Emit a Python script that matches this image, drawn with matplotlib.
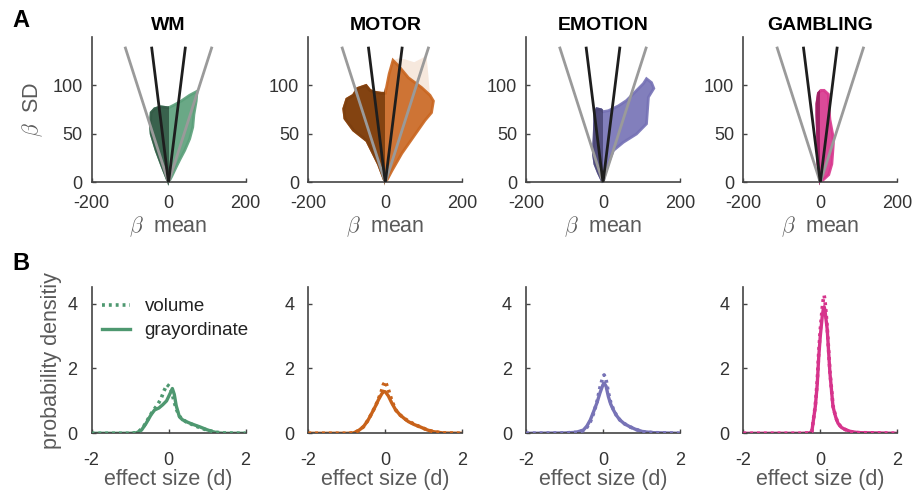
import matplotlib
matplotlib.use("Agg")
import matplotlib.pyplot as plt
from matplotlib.patches import Rectangle

plt.rcParams['font.family'] = ['Liberation Sans', 'DejaVu Sans']
plt.rcParams['mathtext.fontset'] = 'cm'
plt.rcParams['axes.unicode_minus'] = False

# ---------------- data ----------------
tasks = ["WM", "MOTOR", "EMOTION", "GAMBLING"]

# envelopes of the (beta mean, beta SD) point clouds
wm_cloud_mean = [0, -16, -32, -45, -47, -45, -36, -20, 0, 15, 33, 55, 74, 72, 66, 63, 55, 42, 30, 20, 8]
wm_cloud_sd   = [0, 16, 33, 50, 60, 72, 76, 78, 77, 80, 84, 90, 94, 84, 70, 57, 45, 33, 24, 16, 6]

motor_cloud_mean = [0, -18, -48, -83, -105, -108, -100, -83, -72, -50, -40, -27, -10, 0, 10, 20, 35, 60, 94, 116, 125, 120, 103, 73, 43, 17, 5]
motor_cloud_sd   = [0, 19, 43, 54, 66, 76, 86, 90, 97, 100, 95, 93, 92, 92, 112, 126, 120, 108, 98, 90, 84, 72, 64, 47, 30, 12, 3]

motor_faint_mean = [20, 35, 51, 75, 95, 107, 112, 116, 94, 60]
motor_faint_sd   = [126, 128, 127, 124, 128, 131, 110, 90, 98, 108]

emotion_cloud_mean = [0, -12, -21, -25, -23, -21, -16, -5, 0, 14, 40, 61, 85, 105, 113, 126, 132, 118, 113, 87, 53, 27, 10]
emotion_cloud_sd   = [0, 10, 19, 30, 47, 71, 76, 75, 73, 74, 79, 84.5, 94, 102, 107, 103, 97, 88, 60.5, 50, 41.5, 33, 16]

gambling_cloud_mean = [0, -4, -6, -7, -9, -9, -5, 2, 10, 21, 22, 25, 32, 34, 30, 22]
gambling_cloud_sd   = [0, 10, 19, 47, 70, 81, 92, 95, 95, 91, 80, 65, 50, 40, 19, 8]

# reference lines through the origin (end points at SD = 140)
line_sd = [0, 140]
gray_line_mean = [113, 113]      # |mean| at the end of the gray lines
black_line_mean = [44, 44]       # |mean| at the end of the black lines

# effect-size densities
wm_x_gray = [-2, -1, -0.84, -0.7, -0.58, -0.45, -0.36, -0.25, -0.15, -0.05, 0.05, 0.1, 0.15, 0.2, 0.28, 0.36, 0.46, 0.6, 0.81, 1.0, 1.15, 1.3, 1.5, 2]
wm_d_gray = [0, 0, 0.01, 0.1, 0.31, 0.58, 0.72, 0.78, 0.88, 1.0, 1.25, 1.38, 1.2, 0.85, 0.52, 0.42, 0.36, 0.29, 0.2, 0.11, 0.05, 0.01, 0, 0]
wm_x_vol = [-2, -1, -0.8, -0.65, -0.5, -0.4, -0.3, -0.2, -0.12, -0.04, 0.05, 0.12, 0.2, 0.3, 0.45, 0.6, 0.8, 1.0, 1.2, 1.4, 2]
wm_d_vol = [0, 0, 0.02, 0.2, 0.5, 0.7, 0.85, 1.05, 1.3, 1.5, 1.42, 1.1, 0.75, 0.5, 0.36, 0.28, 0.18, 0.1, 0.04, 0.01, 0]

motor_x = [-2, -1, -0.83, -0.7, -0.57, -0.45, -0.35, -0.25, -0.18, -0.1, -0.05, 0.0, 0.08, 0.17, 0.27, 0.38, 0.5, 0.6, 0.75, 0.9, 1.1, 1.25, 1.5, 2]
motor_d_gray = [0, 0, 0.01, 0.08, 0.2, 0.4, 0.62, 0.85, 1.03, 1.2, 1.29, 1.28, 1.15, 0.93, 0.72, 0.57, 0.45, 0.36, 0.27, 0.2, 0.1, 0.05, 0.01, 0]
motor_d_vol = [0, 0, 0.01, 0.08, 0.2, 0.4, 0.62, 0.85, 1.05, 1.3, 1.5, 1.6, 1.35, 1.0, 0.72, 0.57, 0.45, 0.38, 0.28, 0.2, 0.1, 0.05, 0.01, 0]

emotion_x = [-2, -1, -0.7, -0.51, -0.42, -0.33, -0.25, -0.16, -0.08, 0.0, 0.03, 0.08, 0.14, 0.2, 0.27, 0.35, 0.44, 0.55, 0.7, 0.85, 1.04, 1.3, 2]
emotion_d_gray = [0, 0.01, 0.03, 0.1, 0.22, 0.41, 0.65, 0.93, 1.24, 1.5, 1.55, 1.45, 1.13, 0.9, 0.72, 0.55, 0.41, 0.3, 0.2, 0.12, 0.05, 0.02, 0]
emotion_d_vol = [0, 0.01, 0.03, 0.08, 0.18, 0.35, 0.6, 0.95, 1.4, 1.75, 1.8, 1.65, 1.25, 0.95, 0.74, 0.55, 0.41, 0.3, 0.2, 0.12, 0.05, 0.02, 0]

gambling_x = [-2, -0.5, -0.3, -0.22, -0.13, -0.08, -0.04, 0.0, 0.05, 0.08, 0.1, 0.12, 0.15, 0.18, 0.25, 0.33, 0.4, 0.46, 0.55, 0.64, 0.8, 1.0, 2]
gambling_d_gray = [0, 0, 0.01, 0.05, 0.82, 1.5, 2.37, 3.0, 3.6, 3.85, 3.9, 3.8, 3.5, 3.2, 1.86, 0.82, 0.5, 0.31, 0.18, 0.12, 0.05, 0.02, 0]
gambling_d_vol = [0, 0, 0.01, 0.05, 0.85, 1.6, 2.5, 3.2, 3.85, 4.15, 4.25, 4.1, 3.7, 3.25, 1.9, 0.85, 0.5, 0.31, 0.18, 0.12, 0.05, 0.02, 0]

top_xticks = [-200, 0, 200]
top_yticks = [0, 50, 100]
bot_xticks = [-2, 0, 2]
bot_yticks = [0, 2, 4]

# ---------------- styles ----------------
light_cols = ["#5a9f79", "#c9651f", "#7571b5", "#d8368d"]
dark_cols = ["#345b47", "#7b3e0e", "#4d4979", "#9c1f62"]
curve_cols = ["#4e9870", "#c8621a", "#7773b6", "#d6348c"]
clouds = [(wm_cloud_mean, wm_cloud_sd), (motor_cloud_mean, motor_cloud_sd),
          (emotion_cloud_mean, emotion_cloud_sd), (gambling_cloud_mean, gambling_cloud_sd)]
dens = [(wm_x_vol, wm_d_vol, wm_x_gray, wm_d_gray),
        (motor_x, motor_d_vol, motor_x, motor_d_gray),
        (emotion_x, emotion_d_vol, emotion_x, emotion_d_gray),
        (gambling_x, gambling_d_vol, gambling_x, gambling_d_gray)]

W, H = 917, 498
fig = plt.figure(figsize=(W / 100, H / 100), dpi=100)
lefts = [91.5, 308.3, 526, 743.3]
aw = 154
spine_col = "#444444"
tick_col = "#333333"
lab_col = "#5a5a5a"
TICK_FS = 13
LAB_FS = 15.5


def style(ax, xpad, ypad):
    for s in ["top", "right"]:
        ax.spines[s].set_visible(False)
    for s in ["left", "bottom"]:
        ax.spines[s].set_color(spine_col)
        ax.spines[s].set_linewidth(1.2)
    ax.tick_params(direction="in", length=3, width=1, colors=spine_col,
                   labelcolor=tick_col, labelsize=TICK_FS)
    ax.tick_params(axis="x", pad=xpad)
    ax.tick_params(axis="y", pad=ypad)


for i, t in enumerate(tasks):
    # ---- top row ----
    ax = fig.add_axes([lefts[i] / W, 1 - 182.5 / H, aw / W, 145.5 / H])
    style(ax, 9.0, 6.5)
    m, s = clouds[i]
    ax.fill(m, s, color=light_cols[i], alpha=0.9, lw=2.0, ec=light_cols[i], zorder=1)
    dk = ax.fill(m, s, color=dark_cols[i], alpha=0.9, lw=2.0, ec=dark_cols[i], zorder=1.1)[0]
    dk.set_clip_path(Rectangle((-300, -10), 300, 200, transform=ax.transData))
    if i == 1:
        ax.fill(motor_faint_mean, motor_faint_sd, color=light_cols[i], alpha=0.15, lw=0, zorder=0.9)
    for sign in (-1, 1):
        ax.plot([0, sign * gray_line_mean[1]], line_sd, color="#9a9a9a", lw=2.0, zorder=3,
                solid_capstyle="butt")
    for sign in (-1, 1):
        ax.plot([0, sign * black_line_mean[1]], line_sd, color="#1e1e1e", lw=2.0, zorder=4,
                solid_capstyle="butt")
    ax.set_xlim(-200, 200)
    ax.set_ylim(0, 150)
    ax.set_xticks(top_xticks)
    ax.set_yticks(top_yticks)
    ax.set_title(t, fontsize=14, fontweight="bold", pad=5, color="black")
    ax.set_xlabel(r"$\beta$  mean", fontsize=LAB_FS, color=lab_col, labelpad=2)
    if i == 0:
        ax.set_ylabel(r"$\beta$  SD", fontsize=LAB_FS, color=lab_col, labelpad=5)

    # ---- bottom row ----
    bx = fig.add_axes([lefts[i] / W, 1 - 433.3 / H, aw / W, 146 / H])
    style(bx, 13.5, 10)
    xv, dv, xg, dg = dens[i]
    bx.plot(xv, dv, color=curve_cols[i], lw=2.6, ls=(0, (0.8, 1.1)), label="volume", zorder=3)
    bx.plot(xg, dg, color=curve_cols[i], lw=2.4, label="grayordinate", zorder=2)
    bx.set_xlim(-2, 2)
    bx.set_ylim(0, 4.5)
    bx.set_xticks(bot_xticks)
    bx.set_yticks(bot_yticks)
    bx.set_xlabel("effect size (d)", fontsize=LAB_FS, color=lab_col, labelpad=0)
    if i == 0:
        bx.set_ylabel("probability densitiy", fontsize=LAB_FS, color=lab_col, labelpad=4)
        leg = bx.legend(loc="upper left", bbox_to_anchor=(0.071, 0.925), frameon=False,
                        fontsize=13.5, handlelength=1.45, handletextpad=0.8,
                        labelspacing=0.36, borderpad=0, borderaxespad=0)
        for txt in leg.get_texts():
            txt.set_color("#222222")

fig.text(12 / W, 1 - 20 / H, "A", fontsize=17, fontweight="bold", va="center", ha="left")
fig.text(12 / W, 1 - 263 / H, "B", fontsize=17, fontweight="bold", va="center", ha="left")

fig.savefig("out.png", dpi=100)
